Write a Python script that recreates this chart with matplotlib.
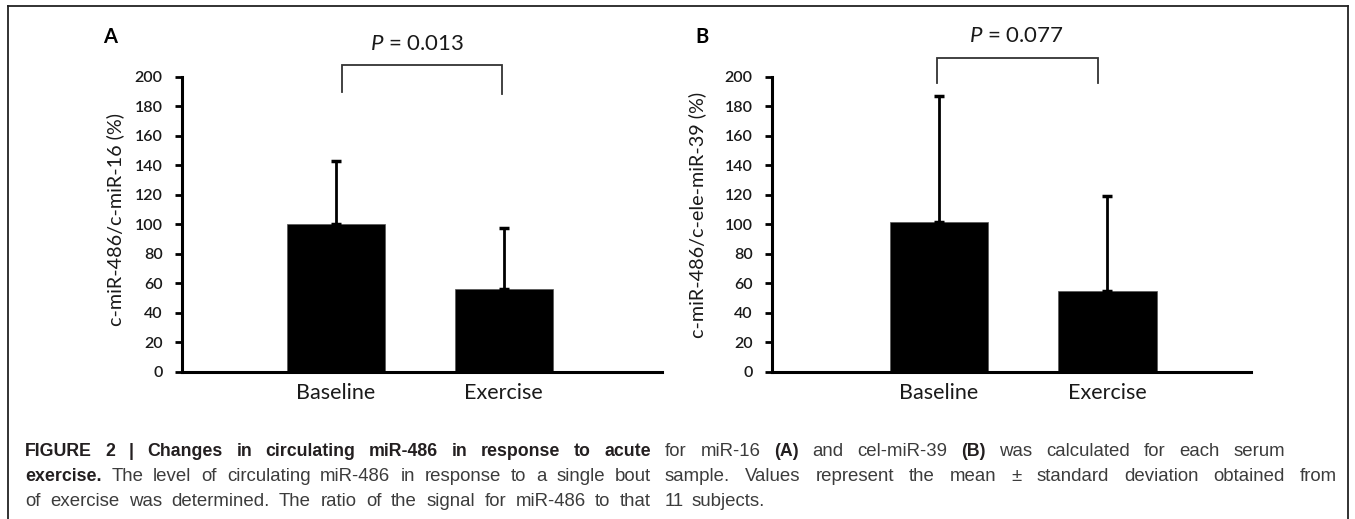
import matplotlib
matplotlib.use("Agg")
import matplotlib.pyplot as plt
from matplotlib.lines import Line2D

# data
categories = ["Baseline", "Exercise"]
means_a = [100.5, 56]
sd_a = [42.5, 41.2]
means_b = [101.7, 55]
sd_b = [85.5, 64.5]
p_a = "0.013"
p_b = "0.077"
ylabel_a = "c-miR-486/c-miR-16 (%)"
ylabel_b = "c-miR-486/c-ele-miR-39 (%)"
yticks = [0, 20, 40, 60, 80, 100, 120, 140, 160, 180, 200]

plt.rcParams['mathtext.fontset'] = 'custom'
plt.rcParams['mathtext.it'] = 'Lato:italic'
plt.rcParams['mathtext.rm'] = 'Lato'

W, H = 1355, 519
fig = plt.figure(figsize=(W / 100, H / 100), dpi=100)


def fx(x):
    return x / W


def fy(y):
    return 1 - y / H


txt = '#1a1a1a'


def panel(left, right, xlim, means, sd, pval, br, ptxt, ylabel, ylab_xy, letter, letter_x):
    ax = fig.add_axes([fx(left), fy(371.5), fx(right) - fx(left), (371.5 - 77) / H])
    x = range(len(categories))
    ax.bar(x, means, width=0.585, color='black', edgecolor='#555555', linewidth=0.5, zorder=2)
    ax.errorbar(x, means, yerr=[[0] * len(sd), sd], fmt='none', ecolor='black',
                elinewidth=2, capsize=3.3, capthick=2.5, clip_on=False, zorder=3)
    ax.set_xlim(*xlim)
    ax.set_ylim(0, 200)
    ax.set_yticks(yticks)
    ax.set_yticklabels([str(v) for v in yticks], family='Lato', fontweight='semibold',
                       fontsize=11.5, color=txt)
    ax.set_xticks(list(x))
    ax.set_xticklabels(categories, family='Lato', fontsize=15.5, color=txt)
    ax.tick_params(axis='x', length=0, pad=8)
    ax.tick_params(axis='y', length=5, width=2, pad=9, direction='out')
    for s in ['top', 'right']:
        ax.spines[s].set_visible(False)
    for s in ['left', 'bottom']:
        ax.spines[s].set_linewidth(2.2)
    # significance bracket
    x0, x1, yb0, yb1, ytop = br
    ax.plot([x0, x0, x1, x1], [yb0, ytop, ytop, yb1], color='#333333', lw=1.3,
            clip_on=False, solid_joinstyle='miter')
    ax.text(ptxt[0], ptxt[1], r"$\mathit{P}$ = " + pval, ha='center', va='center',
            family='Lato', fontsize=16, color=txt, clip_on=False)
    fig.text(fx(ylab_xy[0]), fy(ylab_xy[1]), ylabel, rotation=90, ha='center',
             va='center', family='Lato', fontsize=14.2, color=txt)
    fig.text(fx(letter_x), fy(43), letter, ha='left', va='baseline', family='Lato',
             fontweight='bold', fontsize=14.5, color='black')
    return ax


panel(182, 662, (-0.919, 1.946), means_a, sd_a, p_a,
      (0.036, 0.991, 189.8, 188.5, 208.1), (0.484, 222.5), ylabel_a, (115, 219), "A", 103)
panel(772, 1251, (-0.991, 1.852), means_b, sd_b, p_b,
      (-0.012, 0.941, 196, 196, 212.9), (0.457, 228), ylabel_b, (697, 215), "B", 695)

# border around the figure panel
for xs, ys in [((8, 8), (519, 6)), ((8, 1348), (6, 6)), ((1348, 1348), (6, 519))]:
    fig.add_artist(Line2D([fx(v) for v in xs], [fy(v) for v in ys], color='#222222',
                          lw=1.3, transform=fig.transFigure))

# caption, set word by word so full lines are justified
renderer = fig.canvas.get_renderer()
bold_size = 12.8
reg_size = 13.4
bold_col = '#231f20'
reg_col = '#3c3c3c'


def caption_line(x0, x1, ybase, parts, justify=True):
    words = []
    for text, bold in parts:
        for w in text.split():
            words.append((w, bold))
    arts = []
    total = 0
    for w, bold in words:
        t = fig.text(0, fy(ybase), w, ha='left', va='baseline', family='Liberation Sans',
                     fontsize=bold_size if bold else reg_size,
                     fontweight='bold' if bold else 'normal',
                     color=bold_col if bold else reg_col)
        wpx = t.get_window_extent(renderer=renderer).width
        arts.append((t, wpx))
        total += wpx
    if justify and len(arts) > 1:
        gap = (x1 - x0 - total) / (len(arts) - 1)
    else:
        gap = reg_size * 100 / 72 * 0.4
    pos = x0
    for t, wpx in arts:
        t.set_x(fx(pos))
        pos += wpx + gap


L0, L1 = 25, 651
R0, R1 = 665, 1337
caption_line(L0, L1, 456, [("FIGURE 2 | Changes in circulating miR-486 in response to acute", True)])
caption_line(L0, L1, 481, [("exercise.", True),
                           ("The level of circulating miR-486 in response to a single bout", False)])
caption_line(L0, L1, 506, [("of exercise was determined. The ratio of the signal for miR-486 to that", False)])
caption_line(R0, 1285, 456, [("for miR-16", False), ("(A)", True), ("and cel-miR-39", False),
                             ("(B)", True), ("was calculated for each serum", False)])
caption_line(R0, R1, 481, [("sample. Values represent the mean \u00b1 standard deviation obtained from", False)])
caption_line(R0, R1, 506, [("11 subjects.", False)], justify=False)

fig.savefig("out.png", dpi=100)
